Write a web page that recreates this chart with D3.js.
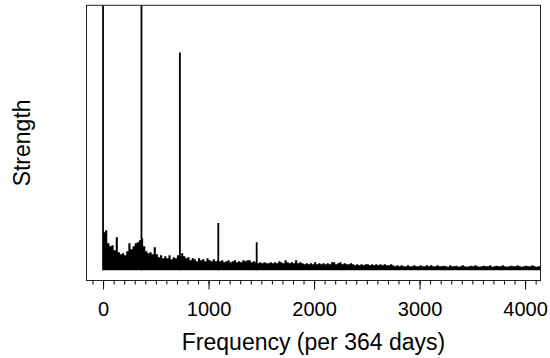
<!DOCTYPE html>
<html>
<head>
<meta charset="utf-8">
<script src="https://cdn.jsdelivr.net/npm/d3@7"></script>
<style>
  body { margin: 0; background: #fff; }
  text { font-family: "Liberation Sans", Arial, sans-serif; fill: #000; }
</style>
</head>
<body>
<div id="chart"></div>
<script>
// harmonic spikes (frequency per 364 days, strength)
const spikeFreqs = [0, 364, 728, 1092, 1456];
const spikeValues = [30, 29, 21.8, 4.73, 2.8];

// noise floor, one value per 20-unit frequency bin starting at 0
const noiseStep = 20;
const noiseValues = [
  3.8, 4.0, 2.7, 2.4, 2.5, 2.0, 3.3, 1.8, 1.6, 1.7,
  1.5, 1.9, 2.7, 2.1, 2.4, 2.7, 2.8, 3.0, 3.2, 2.4,
  1.9, 1.7, 1.8, 1.6, 2.3, 1.6, 1.3, 1.5, 1.2, 1.4,
  1.2, 1.5, 1.1, 1.3, 1.2, 1.5, 1.4, 1.7, 1.4, 1.2,
  1.3, 1.0, 1.2, 1.1, 0.9, 1.2, 1.0, 1.1, 0.9, 1.2,
  1.0, 0.9, 1.1, 0.9, 1.0, 0.9, 1.0, 0.8, 0.9, 1.0,
  0.8, 0.9, 1.0, 0.8, 0.9, 0.8, 1.0, 0.9, 1.0, 1.0,
  0.8, 0.9, 0.8, 0.7, 0.8, 0.7, 0.8, 0.7, 0.7, 0.8,
  0.7, 0.8, 0.7, 0.9, 0.8, 0.7, 1.0, 0.8, 0.7, 0.8,
  0.7, 1.0, 0.7, 0.8, 0.7, 0.6, 0.7, 0.6, 0.7, 0.6,
  0.8, 0.6, 0.7, 0.6, 0.7, 0.6, 0.7, 0.6, 0.8, 0.8,
  0.6, 0.7, 0.8, 0.6, 0.7, 0.6, 0.6, 0.7, 0.6, 0.5,
  0.6, 0.5, 0.6, 0.5, 0.6, 0.6, 0.5, 0.6, 0.5, 0.6,
  0.5, 0.6, 0.5, 0.6, 0.5, 0.5, 0.6, 0.5, 0.4, 0.5,
  0.4, 0.5, 0.4, 0.4, 0.5, 0.4, 0.4, 0.5, 0.4, 0.4,
  0.5, 0.4, 0.4, 0.5, 0.4, 0.5, 0.4, 0.4, 0.5, 0.4,
  0.4, 0.45, 0.4, 0.35, 0.5, 0.4, 0.4, 0.45, 0.35, 0.4,
  0.5, 0.4, 0.35, 0.4, 0.45, 0.4, 0.5, 0.4, 0.35, 0.4,
  0.45, 0.4, 0.4, 0.5, 0.35, 0.4, 0.45, 0.4, 0.4, 0.5,
  0.4, 0.35, 0.4, 0.45, 0.4, 0.4, 0.5, 0.4, 0.35, 0.4,
  0.45, 0.4, 0.4, 0.5, 0.4, 0.35, 0.4, 0.4
];

const majorTicks = [0, 1000, 2000, 3000, 4000];
const minorTicks = d3.range(-100, 4101, 100);

const width = 550, height = 358;
const box = { left: 86.5, right: 540.5, top: 5.3, bottom: 280.5 };

const svg = d3.select("#chart").append("svg")
  .attr("width", width)
  .attr("height", height);

const x = d3.scaleLinear().domain([-157, 4146]).range([box.left, box.right]);
const yTop = 25.5;
const y = d3.scaleLinear().domain([-0.04 * yTop, 1.04 * yTop]).range([box.bottom, box.top]);

svg.append("clipPath").attr("id", "plot-clip")
  .append("rect")
  .attr("x", box.left).attr("y", box.top)
  .attr("width", box.right - box.left).attr("height", box.bottom - box.top);

const plot = svg.append("g").attr("clip-path", "url(#plot-clip)");

// noise floor as one stepped area so bins don't leave seams
const noise = noiseValues.map((v, i) => ({ f: i * noiseStep, v }));
noise.push({ f: noiseValues.length * noiseStep, v: noiseValues[noiseValues.length - 1] });

const area = d3.area()
  .x(d => x(d.f))
  .y0(y(0))
  .y1(d => y(d.v))
  .curve(d3.curveStepAfter);

plot.append("path")
  .datum(noise)
  .attr("d", area)
  .attr("fill", "#000");

plot.selectAll("line.spike")
  .data(spikeFreqs.map((f, i) => ({ f, v: spikeValues[i] })))
  .join("line")
  .attr("class", "spike")
  .attr("x1", d => x(d.f)).attr("x2", d => x(d.f))
  .attr("y1", y(0)).attr("y2", d => y(d.v))
  .attr("stroke", "#000")
  .attr("stroke-width", 1.8);

// frame
svg.append("rect")
  .attr("x", box.left).attr("y", box.top)
  .attr("width", box.right - box.left).attr("height", box.bottom - box.top)
  .attr("fill", "none")
  .attr("stroke", "#222")
  .attr("stroke-width", 1);

// axis ticks
const minorAxis = svg.append("g")
  .attr("transform", `translate(0,${box.bottom})`)
  .call(d3.axisBottom(x).tickValues(minorTicks).tickSize(4).tickFormat(""));
minorAxis.select(".domain").remove();

const majorAxis = svg.append("g")
  .attr("transform", `translate(0,${box.bottom})`)
  .call(d3.axisBottom(x).tickValues(majorTicks).tickSize(9).tickFormat(d3.format("d")));
majorAxis.select(".domain").remove();
majorAxis.selectAll("text")
  .attr("y", 35.5)
  .attr("dy", null)
  .style("font-size", "20px")
  .style("font-family", "'Liberation Sans', Arial, sans-serif")
  .attr("fill", "#000");
svg.selectAll(".tick line").attr("stroke", "#000");

svg.append("text")
  .attr("x", (box.left + box.right) / 2)
  .attr("y", 350)
  .attr("text-anchor", "middle")
  .style("font-size", "23px")
  .text("Frequency (per 364 days)");

svg.append("text")
  .attr("transform", `translate(30,${(box.top + box.bottom) / 2}) rotate(-90)`)
  .attr("text-anchor", "middle")
  .style("font-size", "23px")
  .text("Strength");
</script>
</body>
</html>
